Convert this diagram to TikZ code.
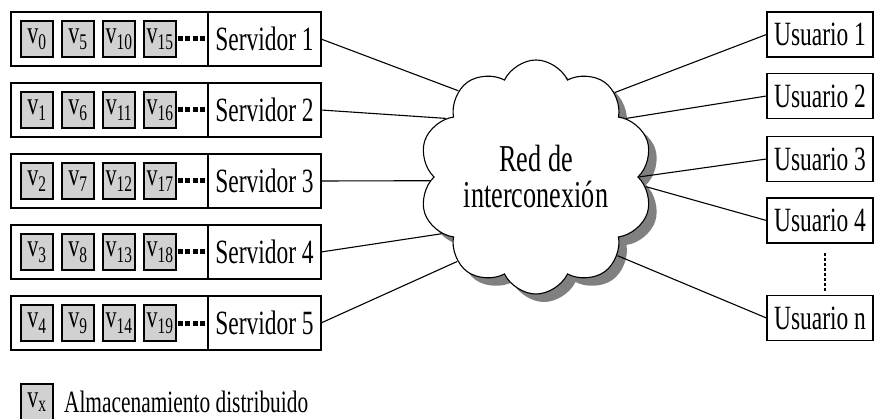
\documentclass[tikz,border=0pt]{standalone}
\usepackage{fontspec}
\setmainfont{Liberation Serif}[FakeStretch=0.69]
\usetikzlibrary{shapes.symbols,shadows,positioning}

\begin{document}
\begin{tikzpicture}[
  x=1pt, y=-1pt,
  line width=1.1pt,
  font=\fontsize{34}{36}\selectfont,
  store/.style={rectangle, draw, minimum width=197pt, minimum height=54pt, inner sep=0pt, outer sep=0pt},
  srv/.style={rectangle, draw, minimum width=113pt, minimum height=54pt, inner sep=0pt, outer sep=0pt},
  vbox/.style={rectangle, draw, fill=black!18, minimum width=32pt, minimum height=36pt, inner sep=0pt, font=\fontsize{32}{34}\selectfont},
  usr/.style={rectangle, draw, minimum width=106pt, minimum height=45pt, inner sep=0pt},
  net/.style={cloud, cloud puffs=10, cloud puff arc=130, draw, fill=white, minimum width=212pt, minimum height=150pt, inner sep=0pt, align=center, font=\fontsize{38}{36}\selectfont, drop shadow={shadow xshift=8pt, shadow yshift=-8pt, fill=black!50, opacity=1}},
  more/.style={line width=5pt, dash pattern=on 5pt off 2.5pt},
  vdots/.style={line width=1.6pt, dash pattern=on 3pt off 2pt}
]
\useasboundingbox (0,0) rectangle (874,419);
% servers with their stored videos
\foreach \r in {1,...,5} {
  \pgfmathsetmacro{\yc}{39+71*(\r-1)}
  \node[store] (st\r) at (109.5,\yc) {};
  \node[srv, right=0pt of st\r] (srv\r) {Servidor \r};
  \foreach \k in {0,...,3} {
    \pgfmathtruncatemacro{\idx}{\r-1+5*\k}
    \node[vbox] (v\r\k) at ({37+41*\k},\yc) {v\textsubscript{\idx}};
  }
  \draw[more, shorten <=1pt] (v\r3.east) -- (srv\r.west);
}
% network
\node[net] (red) at (536,177) {Red de\\interconexión};
% users
\node[usr] (u1) at (820,34.5) {Usuario 1};
\node[usr] (u2) at (820,96) {Usuario 2};
\node[usr] (u3) at (820,159) {Usuario 3};
\node[usr] (u4) at (820,220.5) {Usuario 4};
\node[usr] (un) at (820,318) {Usuario n};
\draw[vdots, shorten <=9pt, shorten >=3pt] ([xshift=5pt]u4.south) -- ([xshift=5pt]un.north);
% links
\draw (srv1.east) -- (red.132);
\draw (srv2.east) -- (red.147);
\draw (srv3.east) -- (red.182);
\draw (srv4.east) -- (red.211);
\draw (srv5.east) -- (red.227);
\draw (red.47) -- (u1.west);
\draw (red.33) -- (u2.west);
\draw (red.0) -- (u3.west);
\draw (red.355) -- (u4.west);
\draw (red.316) -- (un.west);
% legend
\node[vbox] (key) at (37,402) {v\textsubscript{x}};
\node[right=8pt of key, inner sep=2pt, font=\fontsize{31}{33}\selectfont] (keytext) {Almacenamiento distribuido};
\end{tikzpicture}
\end{document}
